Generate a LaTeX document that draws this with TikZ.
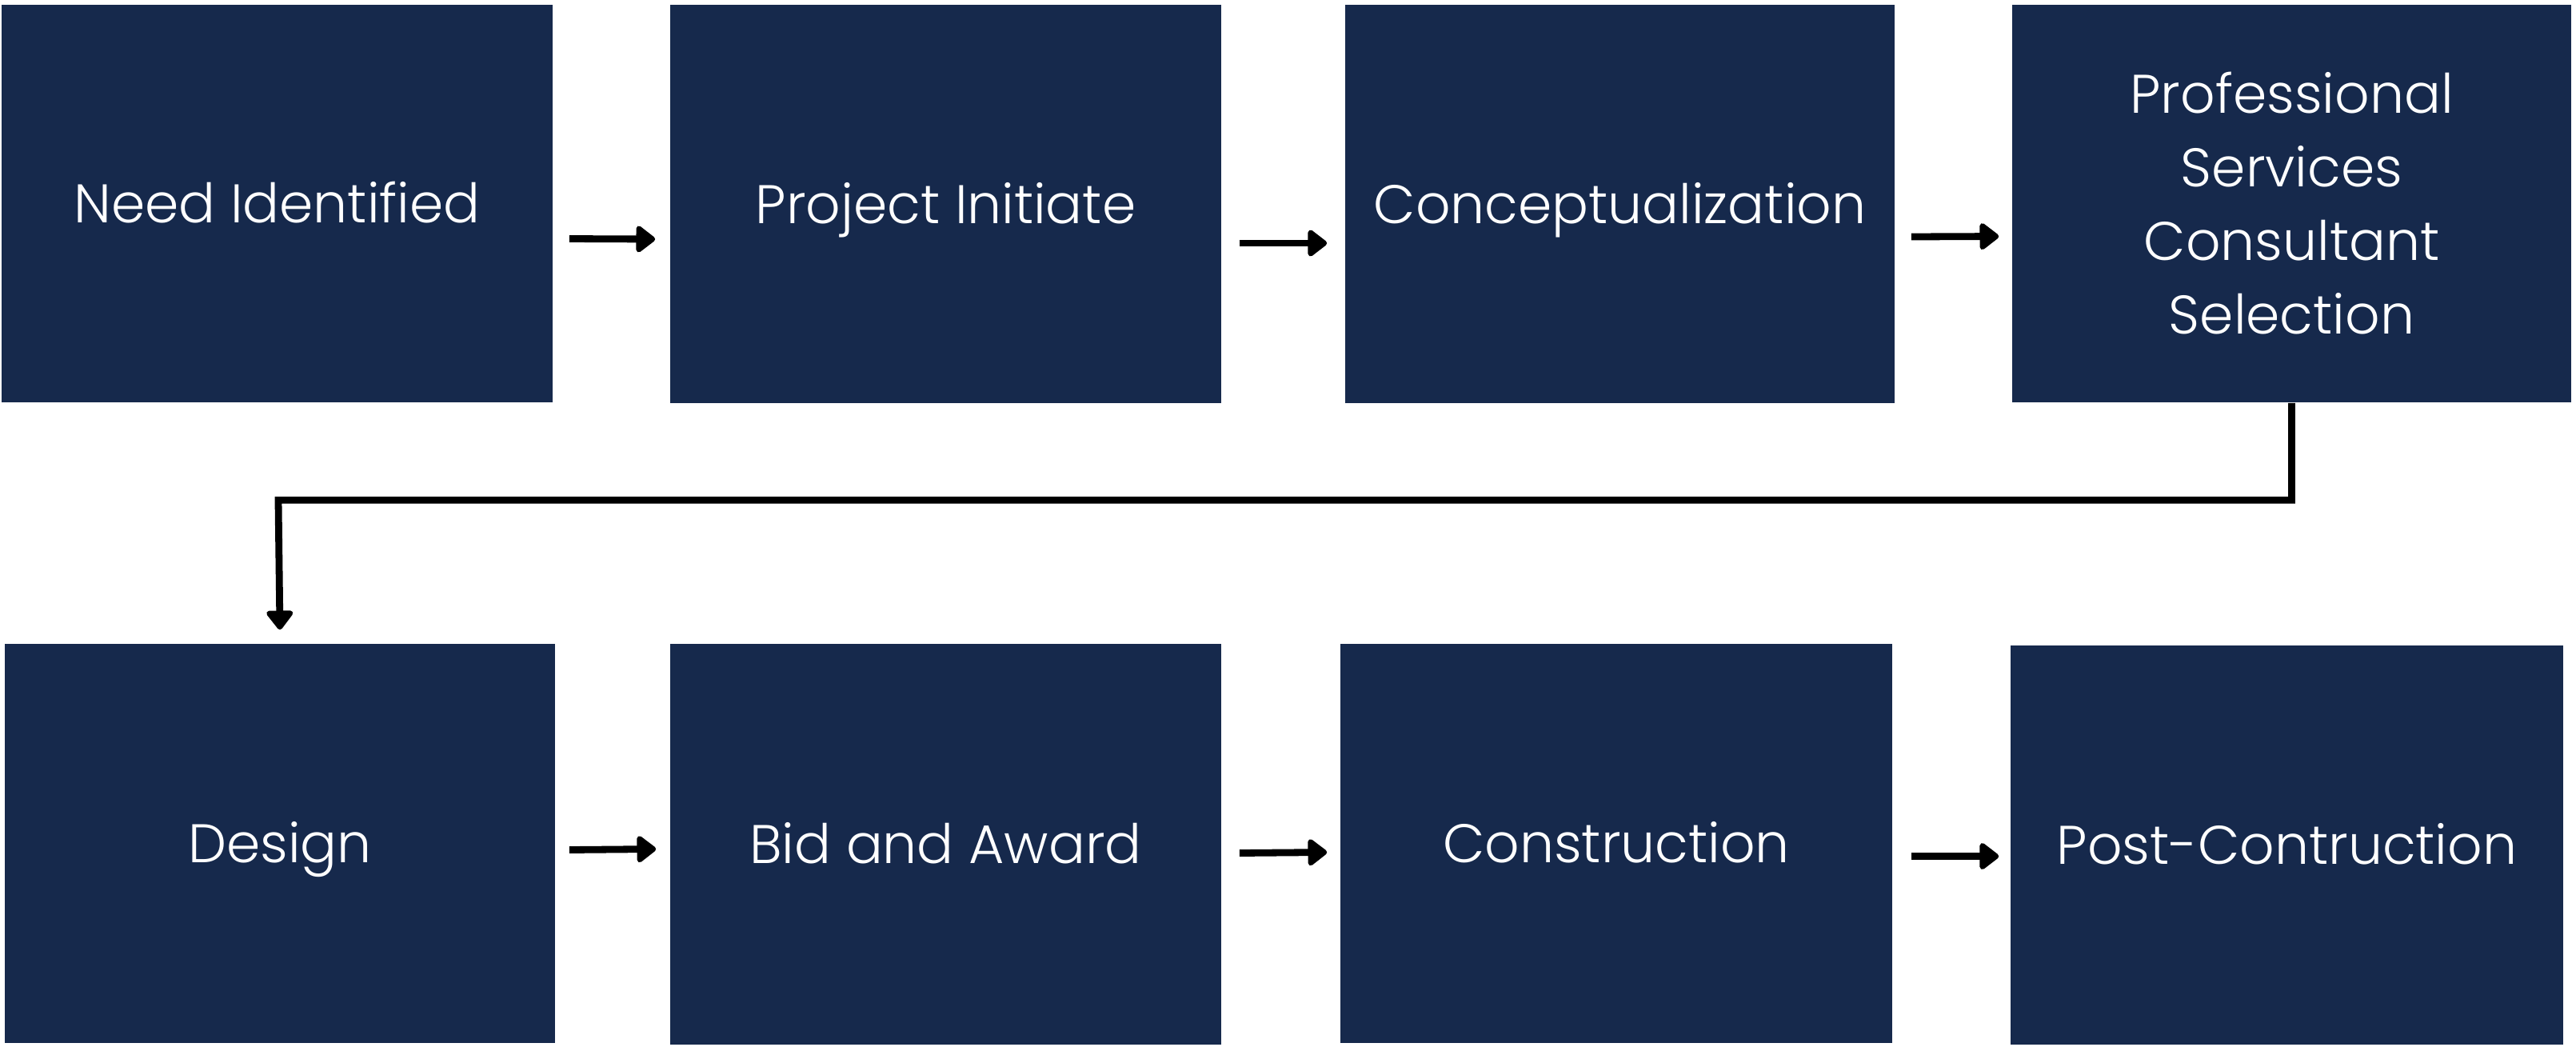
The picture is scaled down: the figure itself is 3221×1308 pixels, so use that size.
\documentclass[tikz,border=0pt]{standalone}
\usepackage{fontspec}
\newfontfamily\lab{Poppins Light}
\usetikzlibrary{arrows.meta,calc}
\definecolor{navy}{RGB}{22,41,76}
\tikzset{
  box/.style={fill=navy, draw=none, inner sep=0pt, text=white, align=center,
    font=\lab\fontsize{17}{23}\selectfont},
  oneline/.style={text height=12pt, text depth=0pt},
  arr/.style={draw=black, line width=2.2pt, -{Triangle[length=6.5pt,width=9.5pt,round]}}
}
\begin{document}
\begin{tikzpicture}[x=0.25pt,y=-0.25pt]
\useasboundingbox (0,0) rectangle (3221,1308);
% row 1
\node[box, oneline, minimum width=172.25pt, minimum height=124.25pt] (b1) at (346.5,254.5) {Need Identified};
\node[box, oneline, minimum width=172.25pt, minimum height=124.5pt] (b2) at (1182.5,255) {Project Initiate};
\node[box, oneline, minimum width=171.75pt, minimum height=124.5pt] (b3) at (2025.5,255) {Conceptualization};
\node[box, minimum width=174.75pt, minimum height=124.25pt] (b4) at (2865.5,254.5) {Professional\\Services\\Consultant\\Selection};
% row 2
\node[box, oneline, minimum width=172pt, minimum height=124.75pt] (b5) at (350,1054.5) {Design};
\node[box, oneline, minimum width=172.25pt, minimum height=125.25pt] (b6) at (1182.5,1055.5) {Bid and Award};
\node[box, oneline, minimum width=172.5pt, minimum height=124.75pt] (b7) at (2021,1054.5) {Construction};
\node[box, oneline, minimum width=172.75pt, minimum height=124.75pt] (b8) at (2859.5,1056.5) {Post-Contruction};
% arrows row 1
\draw[arr] ($(b1.east)+(20,44)$) -- ($(b2.west)+(-18,44)$);
\draw[arr] ($(b2.east)+(22,49)$) -- ($(b3.west)+(-22,49)$);
\draw[arr] ($(b3.east)+(20,41)$) -- ($(b4.west)+(-16,41)$);
% elbow
\draw[arr] (b4.south) |- ($(b5.north)+(-2,-179)$) -- ($(b5.north)+(0,-17)$);
% arrows row 2
\draw[arr] ($(b5.east)+(17,8)$) -- ($(b6.west)+(-17,6)$);
\draw[arr] ($(b6.east)+(22,11)$) -- ($(b7.west)+(-16,11)$);
\draw[arr] ($(b7.east)+(23,16)$) -- ($(b8.west)+(-14,14)$);
\end{tikzpicture}
\end{document}
